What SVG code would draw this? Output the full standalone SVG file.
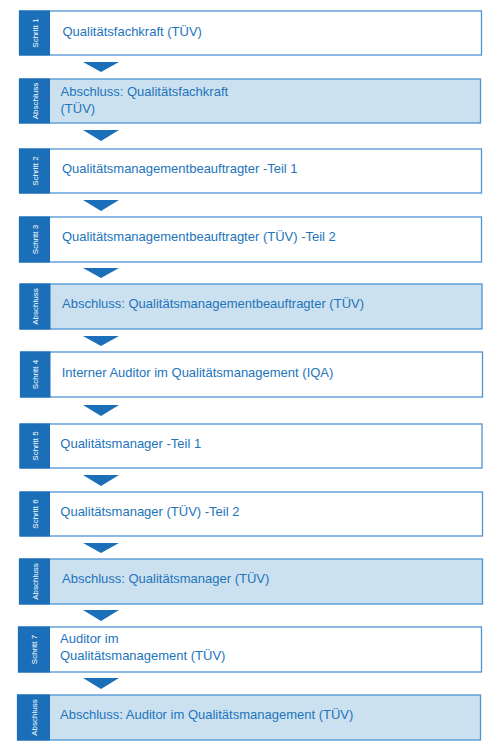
<svg xmlns="http://www.w3.org/2000/svg" width="500" height="752" viewBox="0 0 500 752">
<style>
.box{fill:#ffffff;stroke:#4f93d2;stroke-width:1.3}
.fin{fill:#cce1f0;stroke:#4f93d2;stroke-width:1.3}
.side{fill:#1a6fb8}
.lbl{font-family:"Liberation Sans",Arial,sans-serif;font-size:13px;fill:#2274bb}
.tag{font-family:"Liberation Sans",Arial,sans-serif;font-size:8px;fill:#ffffff;text-anchor:middle}
.arr{fill:#1a6fb8}
</style>
<rect width="500" height="752" fill="#ffffff"/>
<g id="connectors">
<polygon class="arr" points="83,62 119,62 101,72"/>
<polygon class="arr" points="83,130 119,130 101,141"/>
<polygon class="arr" points="83,200 119,200 101,211"/>
<polygon class="arr" points="83,268 119,268 101,278"/>
<polygon class="arr" points="83,336 119,336 101,346"/>
<polygon class="arr" points="83,405 119,405 101,416"/>
<polygon class="arr" points="83,475 119,475 101,486"/>
<polygon class="arr" points="83,543 119,543 101,553"/>
<polygon class="arr" points="83,610 119,610 101,621"/>
<polygon class="arr" points="83,678 119,678 101,689"/>
</g>
<g id="n1">
<rect class="box" x="19.5" y="11" width="462" height="44"/>
<rect class="side" x="19" y="10.5" width="31" height="45"/>
<text class="tag" transform="translate(37.5,33) rotate(-90)">Schritt 1</text>
<text class="lbl" x="62.5" y="35.5">Qualitätsfachkraft (TÜV)</text>
</g>
<g id="n2">
<rect class="fin" x="19.5" y="79" width="461" height="44"/>
<rect class="side" x="19" y="78.5" width="31" height="45"/>
<text class="tag" transform="translate(37.5,101) rotate(-90)">Abschluss</text>
<text class="lbl" x="60.5" y="95.5">Abschluss: Qualitätsfachkraft</text>
<text class="lbl" x="60.5" y="112.5">(TÜV)</text>
</g>
<g id="n3">
<rect class="box" x="19.5" y="149" width="462" height="44"/>
<rect class="side" x="19" y="148.5" width="31" height="45"/>
<text class="tag" transform="translate(37.5,171) rotate(-90)">Schritt 2</text>
<text class="lbl" x="62" y="172.7">Qualitätsmanagementbeauftragter -Teil 1</text>
</g>
<g id="n4">
<rect class="box" x="19.5" y="217" width="462" height="45"/>
<rect class="side" x="19" y="216.5" width="31" height="46"/>
<text class="tag" transform="translate(37.5,239.5) rotate(-90)">Schritt 3</text>
<text class="lbl" x="62" y="240.7">Qualitätsmanagementbeauftragter (TÜV) -Teil 2</text>
</g>
<g id="n5">
<rect class="fin" x="20" y="284" width="462" height="45"/>
<rect class="side" x="19.5" y="283.5" width="31" height="46"/>
<text class="tag" transform="translate(38,306.5) rotate(-90)">Abschluss</text>
<text class="lbl" x="62" y="308">Abschluss: Qualitätsmanagementbeauftragter (TÜV)</text>
</g>
<g id="n6">
<rect class="box" x="20.5" y="352" width="462" height="45"/>
<rect class="side" x="20" y="351.5" width="30.5" height="46"/>
<text class="tag" transform="translate(38,374.5) rotate(-90)">Schritt 4</text>
<text class="lbl" x="61.7" y="376.7">Interner Auditor im Qualitätsmanagement (IQA)</text>
</g>
<g id="n7">
<rect class="box" x="20" y="424" width="462" height="44"/>
<rect class="side" x="19.5" y="423.5" width="30.5" height="45"/>
<text class="tag" transform="translate(38,446) rotate(-90)">Schritt 5</text>
<text class="lbl" x="60.3" y="448">Qualitätsmanager -Teil 1</text>
</g>
<g id="n8">
<rect class="box" x="20" y="492" width="462.5" height="44"/>
<rect class="side" x="19.5" y="491.5" width="30.5" height="45"/>
<text class="tag" transform="translate(38,514) rotate(-90)">Schritt 6</text>
<text class="lbl" x="60.3" y="515.7">Qualitätsmanager (TÜV) -Teil 2</text>
</g>
<g id="n9">
<rect class="fin" x="19.5" y="559" width="463" height="45"/>
<rect class="side" x="19" y="558.5" width="31" height="46"/>
<text class="tag" transform="translate(37.5,581.5) rotate(-90)">Abschluss</text>
<text class="lbl" x="62" y="583.3">Abschluss: Qualitätsmanager (TÜV)</text>
</g>
<g id="n10">
<rect class="box" x="18.5" y="627" width="463" height="45"/>
<rect class="side" x="18" y="626.5" width="32" height="46"/>
<text class="tag" transform="translate(37,649.5) rotate(-90)">Schritt 7</text>
<text class="lbl" x="60" y="643.3">Auditor im</text>
<text class="lbl" x="60" y="659.5">Qualitätsmanagement (TÜV)</text>
</g>
<g id="n11">
<rect class="fin" x="17.5" y="695" width="463" height="45"/>
<rect class="side" x="17" y="694.5" width="33" height="46"/>
<text class="tag" transform="translate(36.5,717.5) rotate(-90)">Abschluss</text>
<text class="lbl" x="60" y="719.3">Abschluss: Auditor im Qualitätsmanagement (TÜV)</text>
</g>
</svg>
